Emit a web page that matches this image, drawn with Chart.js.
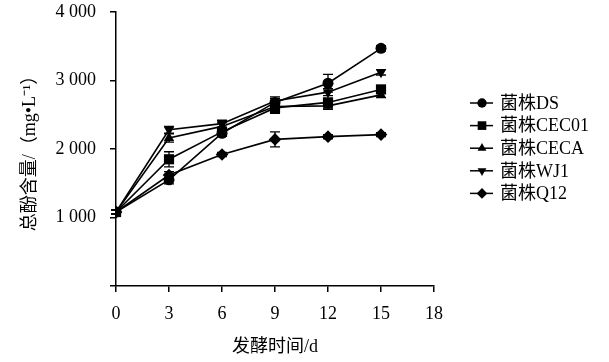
<!DOCTYPE html>
<html>
<head>
<meta charset="utf-8">
<script src="https://cdn.jsdelivr.net/npm/chart.js@4.4.1/dist/chart.umd.min.js"></script>
<style>
  html, body { margin: 0; padding: 0; background: #fff; }
  #wrap { width: 609px; height: 362px; position: relative; }
</style>
</head>
<body>
<div id="wrap"><canvas id="c" width="609" height="362"></canvas></div>
<script>
// fermentation days
var days = [0, 3, 6, 9, 12, 15];
// total phenol, mg/L
var seriesNames = ['菌株DS', '菌株CEC01', '菌株CECA', '菌株WJ1', '菌株Q12'];
var dsVals    = [1080, 1550, 2230, 2680, 2960, 3470];
var cec01Vals = [1080, 1850, 2250, 2600, 2680, 2870];
var cecaVals  = [1080, 2160, 2330, 2620, 2630, 2790];
var wj1Vals   = [1080, 2280, 2370, 2700, 2830, 3120];
var q12Vals   = [1080, 1620, 1920, 2140, 2180, 2210];
// error bars (+/-)
var dsErr    = [30, 60, 40, 60, 130, 40];
var cec01Err = [30, 110, 60, 80, 60, 40];
var cecaErr  = [30, 60, 50, 60, 50, 40];
var wj1Err   = [30, 50, 50, 60, 50, 40];
var q12Err   = [30, 50, 30, 110, 30, 30];
var yTicks = [0, 1000, 2000, 3000, 4000];
var xTicks = [0, 3, 6, 9, 12, 15, 18];

var FONT = "'Liberation Serif', 'Times New Roman', 'Noto Sans CJK SC', serif";

function toPts(vals) {
  return vals.map(function (v, i) { return { x: days[i], y: v }; });
}

var styles = [
  { pointStyle: 'circle', radius: 5.5, rotation: 0 },
  { pointStyle: 'rect', radius: 7.2, rotation: 0 },
  { pointStyle: 'triangle', radius: 6, rotation: 0 },
  { pointStyle: 'triangle', radius: 6, rotation: 180 },
  { pointStyle: 'rectRot', radius: 6.3, rotation: 0 }
];
var allVals = [dsVals, cec01Vals, cecaVals, wj1Vals, q12Vals];
var allErr = [dsErr, cec01Err, cecaErr, wj1Err, q12Err];

var datasets = allVals.map(function (vals, k) {
  return {
    label: seriesNames[k],
    data: toPts(vals),
    errors: allErr[k],
    borderColor: '#000',
    backgroundColor: '#000',
    borderWidth: 1.6,
    pointStyle: styles[k].pointStyle,
    pointRadius: styles[k].radius,
    pointRotation: styles[k].rotation,
    pointBorderWidth: 0,
    tension: 0
  };
});

// error bars drawn via the scales
var errorBars = {
  id: 'errorBars',
  beforeDatasetsDraw: function (chart) {
    var ctx = chart.ctx, xs = chart.scales.x, ys = chart.scales.y;
    ctx.save();
    ctx.strokeStyle = '#000';
    ctx.lineWidth = 1.3;
    chart.data.datasets.forEach(function (ds) {
      ds.data.forEach(function (p, i) {
        var e = ds.errors[i];
        var px = xs.getPixelForValue(p.x);
        var top = ys.getPixelForValue(p.y + e), bot = ys.getPixelForValue(p.y - e);
        ctx.beginPath();
        ctx.moveTo(px, top); ctx.lineTo(px, bot);
        ctx.moveTo(px - 5, top); ctx.lineTo(px + 5, top);
        ctx.moveTo(px - 5, bot); ctx.lineTo(px + 5, bot);
        ctx.stroke();
      });
    });
    ctx.restore();
  }
};

// legend on the right: short line with marker, then label
var sideLegend = {
  id: 'sideLegend',
  afterDraw: function (chart) {
    var ctx = chart.ctx;
    var x0 = 470, y0 = 103, step = 22.6;
    ctx.save();
    chart.data.datasets.forEach(function (ds, k) {
      var y = y0 + k * step;
      ctx.strokeStyle = '#000';
      ctx.lineWidth = 1.5;
      ctx.beginPath();
      ctx.moveTo(x0, y); ctx.lineTo(x0 + 23, y);
      ctx.stroke();
      ctx.fillStyle = '#000';
      Chart.helpers.drawPoint(ctx, {
        pointStyle: ds.pointStyle,
        rotation: ds.pointRotation,
        radius: ds.pointRadius * 0.85,
        borderWidth: 0
      }, x0 + 12, y);
      ctx.font = '18px ' + FONT;
      ctx.textBaseline = 'middle';
      ctx.textAlign = 'left';
      ctx.fillText(ds.label, x0 + 30, y + 1);
    });
    ctx.restore();
  }
};

new Chart(document.getElementById('c'), {
  type: 'line',
  data: { datasets: datasets },
  options: {
    responsive: false,
    animation: false,
    devicePixelRatio: 1,
    layout: { padding: { top: 12, right: 175, left: 0, bottom: 0 } },
    plugins: {
      legend: { display: false },
      tooltip: { enabled: false }
    },
    scales: {
      x: {
        type: 'linear',
        min: 0, max: 18,
        afterBuildTicks: function (s) { s.ticks = xTicks.map(function (v) { return { value: v }; }); },
        afterFit: function (s) { s.height = 76; s.paddingLeft = 0; s.paddingRight = 0; },
        border: { color: '#000', width: 1.5 },
        grid: { drawOnChartArea: false, drawTicks: true, tickLength: 6, color: '#000', lineWidth: 1.5 },
        ticks: { color: '#000', font: { family: FONT, size: 18 }, padding: 11, maxRotation: 0 },
        title: {
          display: true, text: '发酵时间/d', color: '#000',
          font: { family: FONT, size: 18 }, padding: { top: 0, bottom: 4 }
        }
      },
      y: {
        min: 0, max: 4000,
        afterBuildTicks: function (s) { s.ticks = yTicks.map(function (v) { return { value: v }; }); },
        afterFit: function (s) { s.width = 116; s.paddingTop = 0; s.paddingBottom = 0; },
        border: { color: '#000', width: 1.5 },
        grid: { drawOnChartArea: false, drawTicks: true, tickLength: 6, color: '#000', lineWidth: 1.5 },
        ticks: {
          color: '#000', font: { family: FONT, size: 18 }, padding: 14,
          callback: function (v) {
            if (v === 0) return '';
            return String(v).replace(/\B(?=(\d{3})+(?!\d))/g, ' ');
          }
        },
        title: {
          display: true, text: '总酚含量/（mg\u2022L\u207B\u00B9）', color: '#000',
          font: { family: FONT, size: 18 }, padding: { top: 19, bottom: 0 }
        }
      }
    }
  },
  plugins: [errorBars, sideLegend]
});
</script>
</body>
</html>
